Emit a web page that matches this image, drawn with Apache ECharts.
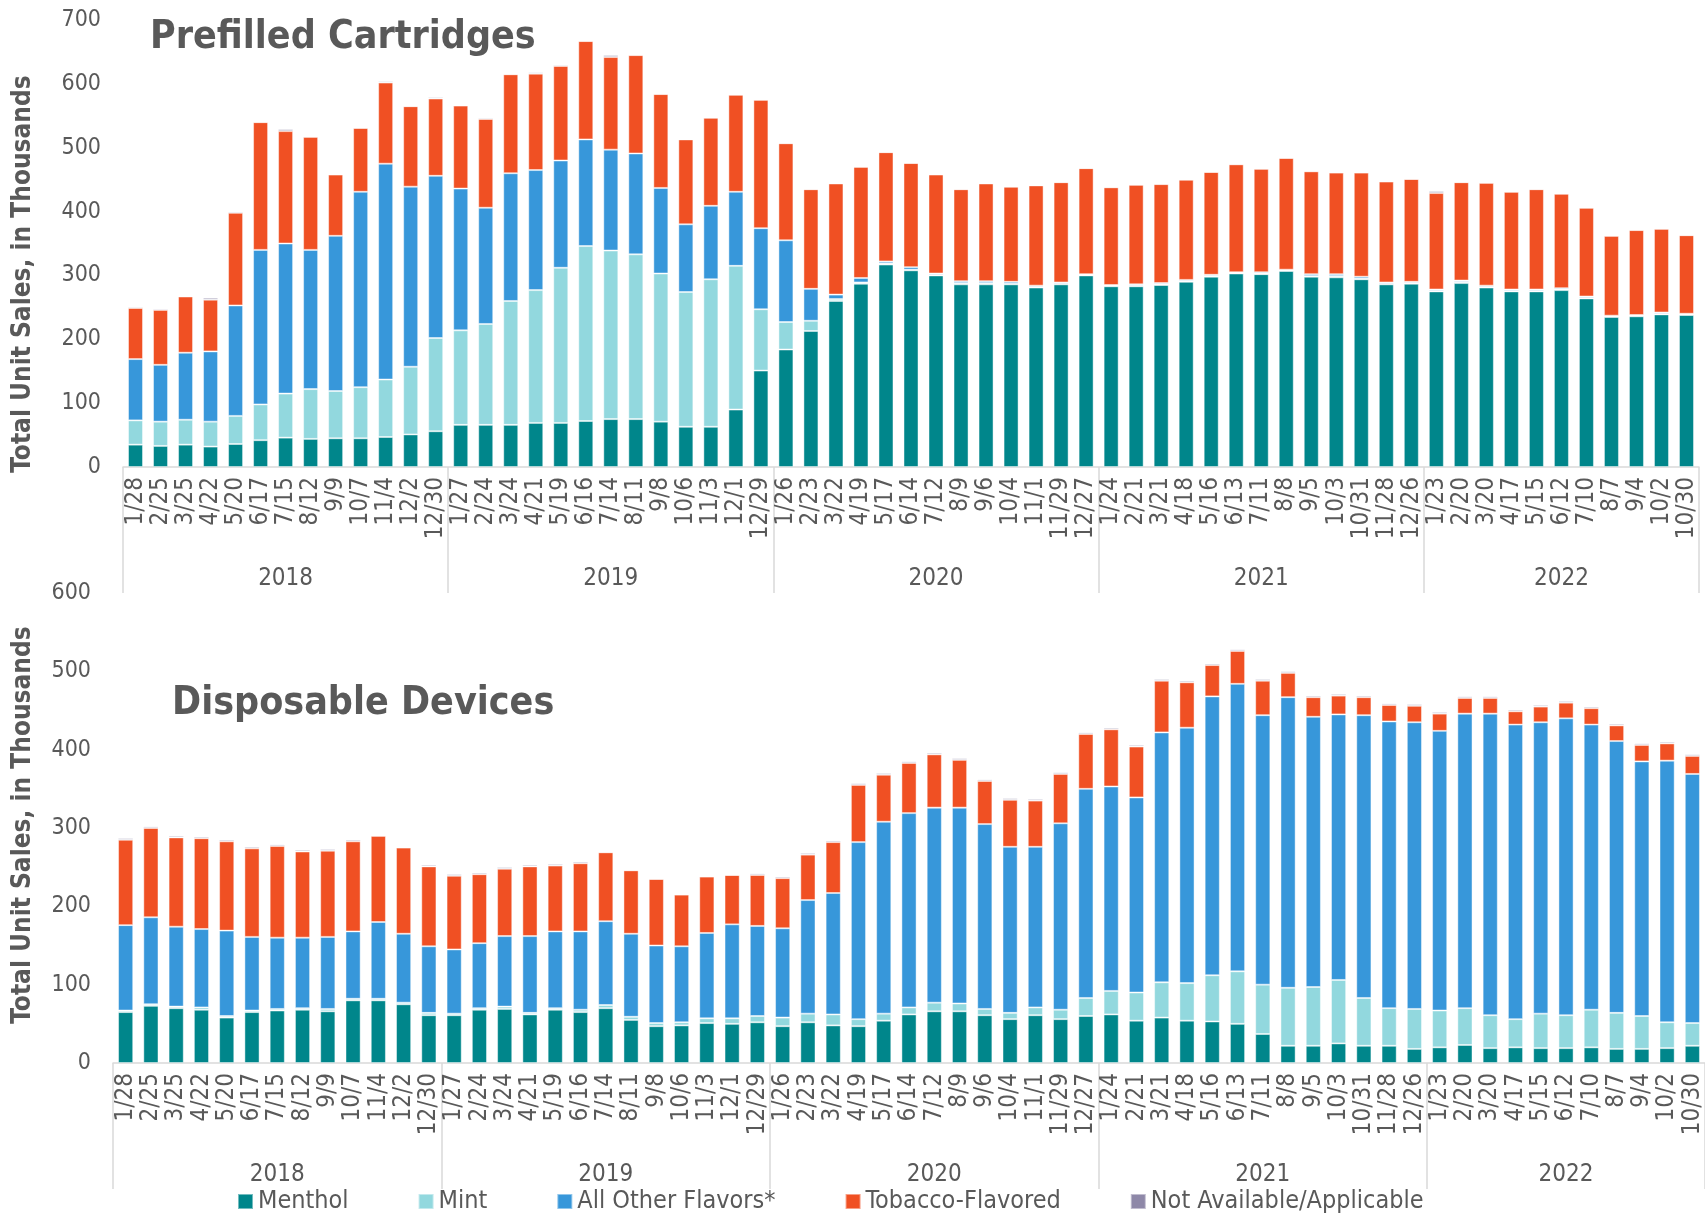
<!DOCTYPE html>
<html>
<head>
<meta charset="utf-8">
<script src="https://cdn.jsdelivr.net/npm/echarts@6/dist/echarts.min.js"></script>
<style>
  html, body { margin: 0; padding: 0; background: #fff; }
  #chart { width: 1705px; height: 1219px; }
</style>
</head>
<body>
<div id="chart"></div>
<script>
// 4-week periods, ending dates
const dates = [
  '1/28','2/25','3/25','4/22','5/20','6/17','7/15','8/12','9/9','10/7','11/4','12/2','12/30',
  '1/27','2/24','3/24','4/21','5/19','6/16','7/14','8/11','9/8','10/6','11/3','12/1','12/29',
  '1/26','2/23','3/22','4/19','5/17','6/14','7/12','8/9','9/6','10/4','11/1','11/29','12/27',
  '1/24','2/21','3/21','4/18','5/16','6/13','7/11','8/8','9/5','10/3','10/31','11/28','12/26',
  '1/23','2/20','3/20','4/17','5/15','6/12','7/10','8/7','9/4','10/2','10/30'
];
const years = ['2018', '2019', '2020', '2021', '2022'];
const yearSizes = [13, 13, 13, 13, 11];

const flavors = ['Menthol', 'Mint', 'All Other Flavors*', 'Tobacco-Flavored', 'Not Available/Applicable'];
const colors = ['#00868b', '#92d8de', '#3797da', '#f05023', '#8e88a8'];

// Prefilled cartridges (thousands)
const cartMenthol = [35,33,35,32,36,42,46,44,45,45,47,51,56, 66,66,66,69,69,72,75,75,71,63,63,90,151,
  184,213,260,287,317,308,300,286,286,286,281,286,300, 283,283,285,290,298,303,302,307,298,297,294,286,287,
  275,288,281,275,275,277,264,235,236,239,238];
const cartMint = [38,38,39,39,44,56,69,78,74,80,90,106,146, 148,158,194,208,243,274,264,258,232,211,231,225,96,
  43,16,3,2,2,1,1,2,2,1,1,1,1, 1,1,1,1,1,1,1,1,1,2,1,1,1, 1,2,1,1,1,1,1,1,1,1,1];
const cartOther = [96,89,105,110,173,242,235,218,243,306,338,282,254, 222,182,200,188,168,167,158,158,134,106,115,116,127,
  128,50,7,7,3,4,2,3,3,3,2,2,1, 1,2,2,2,2,1,2,1,3,3,3,2,2, 2,2,2,2,2,2,2,1,1,2,1];
const cartTobacco = [80,86,88,81,145,200,176,177,96,100,127,126,121, 130,139,155,151,148,154,145,154,147,133,138,152,201,
  152,156,174,174,171,163,155,144,153,149,157,157,166, 153,156,155,157,161,169,162,175,161,159,163,158,161,
  151,154,161,153,157,148,139,125,133,131,123];
const cartNA = [2,2,0,3,2,1,3,0,0,0,2,0,2, 0,2,0,2,2,0,3,0,0,0,0,0,0,
  0,0,0,0,0,0,0,0,0,0,0,0,0, 0,0,0,0,0,0,0,0,0,0,0,0,0, 3,0,0,0,0,0,0,0,0,0,0];

// Disposable devices (thousands)
const dispMenthol = [65,73,70,68,58,65,67,68,66,80,80,75,61, 61,68,69,62,68,65,70,55,47,48,51,50,52,
  47,52,48,47,54,62,66,66,61,56,61,56,60, 62,54,58,54,53,50,37,22,22,25,22,22,18,
  20,23,19,20,19,19,20,18,18,19,22];
const dispMint = [2,2,2,3,2,2,2,2,3,2,2,2,3, 2,2,3,2,2,3,4,4,4,4,6,7,8,
  11,11,14,9,9,9,11,10,8,8,10,12,23, 30,36,45,48,59,67,63,74,75,81,61,48,51,
  47,47,42,36,44,42,48,46,42,33,29];
const dispOther = [109,111,102,100,109,94,91,90,92,86,98,88,85, 82,83,90,98,98,100,107,106,99,97,109,120,115,
  114,145,155,226,245,248,249,250,236,212,205,238,267, 261,249,319,326,356,367,344,371,345,339,361,366,366,
  357,376,385,376,372,379,364,347,325,334,318];
const dispTobacco = [109,114,114,116,114,113,117,110,110,115,110,110,102, 94,88,86,89,84,87,88,81,85,66,72,63,65,
  64,58,65,73,60,64,68,61,55,60,59,63,70, 73,65,66,58,40,42,44,31,25,24,23,21,21,
  22,20,20,17,20,20,21,20,21,22,23];
const dispNA = [2,2,2,2,2,2,2,2,2,2,0,0,2, 2,2,2,2,2,2,0,0,0,0,0,0,2,
  2,2,2,2,2,2,2,2,2,2,2,2,2, 2,2,2,2,2,2,2,2,2,2,2,2,2, 2,2,2,2,2,2,2,2,2,2,2];

const FONT = "'DejaVu Sans Condensed', 'Liberation Sans', sans-serif";
const GREY = '#595959';

// first index and middle index of each year group
const yearStart = [];
const yearMid = [];
let acc = 0;
yearSizes.forEach(n => {
  yearStart.push(acc);
  yearMid.push(acc + Math.floor(n / 2));
  acc += n;
});

const chart = echarts.init(document.getElementById('chart'));

function dateAxis(grid) {
  return {
    type: 'category', gridIndex: grid, data: dates,
    axisLine: { lineStyle: { color: '#d9d9d9', width: 1.5 } },
    axisTick: {
      show: true, length: 126,
      interval: (idx) => yearStart.includes(idx),
      lineStyle: { color: '#d9d9d9', width: 1.5 }
    },
    axisLabel: { interval: 0, rotate: 90, margin: 10, fontSize: 24, color: GREY, fontFamily: FONT }
  };
}

function yearAxis(grid) {
  return {
    type: 'category', gridIndex: grid, data: dates, position: 'bottom',
    axisLine: { show: false }, axisTick: { show: false },
    axisLabel: {
      interval: 0, margin: 100, fontSize: 24, color: GREY, fontFamily: FONT,
      formatter: (v, idx) => {
        const k = yearMid.indexOf(idx);
        return k >= 0 ? years[k] : '';
      }
    }
  };
}

function valueAxis(grid, max) {
  return {
    type: 'value', gridIndex: grid, min: 0, max: max, interval: 100,
    splitLine: { show: false }, axisLine: { show: false }, axisTick: { show: false },
    axisLabel: { fontSize: 23, color: GREY, margin: 22, fontFamily: FONT }
  };
}

function stackSeries(values, xIdx, yIdx, stack) {
  return values.map((data, i) => ({
    name: flavors[i], type: 'bar', stack: stack,
    xAxisIndex: xIdx, yAxisIndex: yIdx,
    barWidth: '60%', data: data,
    itemStyle: { color: colors[i], borderColor: 'rgba(255,255,255,0.45)', borderWidth: 1 }
  }));
}

const option = {
  animation: false,
  backgroundColor: '#fff',
  textStyle: { fontFamily: FONT },
  grid: [
    { left: 123, right: 6, top: 20, height: 447 },
    { left: 113, right: 0, top: 593, height: 470 }
  ],
  xAxis: [dateAxis(0), yearAxis(0), dateAxis(1), yearAxis(1)],
  yAxis: [valueAxis(0, 700), valueAxis(1, 600)],
  legend: {
    data: flavors, left: 237, top: 1189, padding: 0,
    itemWidth: 15, itemHeight: 15, itemGap: 69, icon: 'rect',
    textStyle: { fontSize: 25, color: GREY, fontFamily: FONT }
  },
  graphic: [
    { type: 'text', x: 150, y: 38,
      style: { text: 'Prefilled Cartridges', font: 'bold 39px ' + FONT, fill: GREY, verticalAlign: 'middle' } },
    { type: 'text', x: 172, y: 704,
      style: { text: 'Disposable Devices', font: 'bold 39px ' + FONT, fill: GREY, verticalAlign: 'middle' } },
    { type: 'text', x: 23, y: 274, rotation: Math.PI / 2,
      style: { text: 'Total Unit Sales, in Thousands', font: 'bold 26px ' + FONT, fill: GREY, align: 'center', verticalAlign: 'middle' } },
    { type: 'text', x: 23, y: 825, rotation: Math.PI / 2,
      style: { text: 'Total Unit Sales, in Thousands', font: 'bold 26px ' + FONT, fill: GREY, align: 'center', verticalAlign: 'middle' } }
  ],
  series: [
    ...stackSeries([cartMenthol, cartMint, cartOther, cartTobacco, cartNA], 0, 0, 'cart'),
    ...stackSeries([dispMenthol, dispMint, dispOther, dispTobacco, dispNA], 2, 1, 'disp')
  ]
};

chart.setOption(option);
</script>
</body>
</html>
